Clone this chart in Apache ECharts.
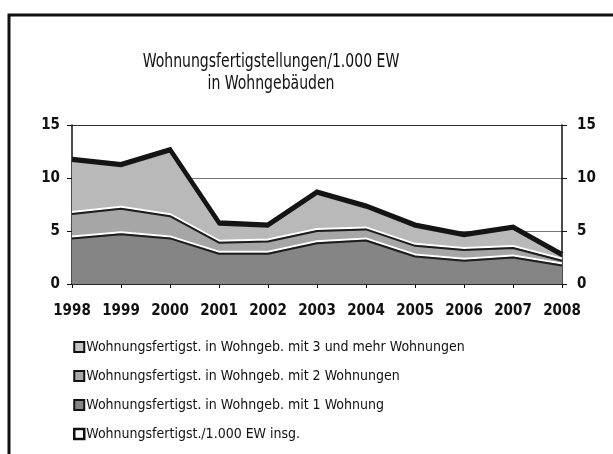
<!DOCTYPE html>
<html>
<head>
<meta charset="utf-8">
<script src="https://cdn.jsdelivr.net/npm/echarts@6/dist/echarts.min.js"></script>
<style>
  html, body { margin: 0; padding: 0; background: #fff; }
  #chart { width: 613px; height: 454px; }
</style>
</head>
<body>
<div id="chart"></div>
<script>
'use strict';

var years = ['1998', '1999', '2000', '2001', '2002', '2003', '2004', '2005', '2006', '2007', '2008'];
// Wohnungen je 1.000 EW
var oneFlat = [4.3, 4.7, 4.3, 2.85, 2.85, 3.85, 4.1, 2.6, 2.2, 2.5, 1.75];
var twoFlats = [2.3, 2.4, 2.1, 1.05, 1.15, 1.15, 1.05, 1.0, 1.0, 0.9, 0.45];
var threePlus = [5.0, 4.0, 6.1, 1.7, 1.4, 3.5, 2.05, 1.8, 1.3, 1.8, 0.4];
var total = [11.8, 11.3, 12.7, 5.8, 5.6, 8.7, 7.4, 5.6, 4.7, 5.4, 2.8];
var yTicks = [0, 15, 5];

var titleLines = ['Wohnungsfertigstellungen/1.000 EW', 'in Wohngebäuden'];
var names = [
    'Wohnungsfertigst. in Wohngeb. mit 3 und mehr Wohnungen',
    'Wohnungsfertigst. in Wohngeb. mit 2 Wohnungen',
    'Wohnungsfertigst. in Wohngeb. mit 1 Wohnung',
    'Wohnungsfertigst./1.000 EW insg.'
];

var FONT = '"Liberation Sans Narrow", "DejaVu Sans Condensed", sans-serif';

var boundary = {
    color: '#1c1c1c',
    width: 2,
    shadowColor: '#ffffff',
    shadowBlur: 0,
    shadowOffsetY: -2
};

var areaSeries = function(name, data, color, z) {
    return {
        name: name,
        type: 'line',
        stack: 'wohn',
        data: data,
        z: z,
        showSymbol: false,
        symbol: 'none',
        lineStyle: boundary,
        areaStyle: { color: color, opacity: 1 },
        itemStyle: { color: color },
        emphasis: { disabled: true }
    };
};

var yAxisBase = function(pos) {
    return {
        type: 'value',
        position: pos,
        min: yTicks[0],
        max: yTicks[1],
        interval: yTicks[2],
        axisLine: { show: true, lineStyle: { color: '#111', width: 1.5 } },
        axisTick: { show: true, length: 5, lineStyle: { color: '#111' } },
        axisLabel: {
            margin: pos === 'left' ? 12 : 15,
            color: '#111',
            fontFamily: FONT,
            fontWeight: 'bold',
            fontSize: 15
        },
        splitLine: {
            show: pos === 'left',
            lineStyle: { color: ['#777', '#777', '#777', '#333'], width: 1 }
        }
    };
};

// Titel als gestauchter Text (Schrift im Original sehr schmal)
var titleText = function(txt, y) {
    return {
        type: 'text',
        x: 271,
        y: y,
        scaleX: 0.78,
        silent: true,
        style: {
            text: txt,
            x: 0,
            y: 0,
            align: 'center',
            verticalAlign: 'middle',
            fontFamily: FONT,
            fontSize: 20,
            fill: '#111'
        }
    };
};

var myChart = echarts.init(document.getElementById('chart'));
var option = {
    backgroundColor: '#fff',
    animation: false,
    graphic: [
        {
            type: 'rect',
            shape: { x: 9, y: 15, width: 700, height: 500 },
            style: { fill: 'none', stroke: '#111', lineWidth: 3 },
            silent: true
        },
        titleText(titleLines[0], 62),
        titleText(titleLines[1], 84)
    ],
    grid: {
        left: 72,
        right: 51,
        top: 125,
        bottom: 170
    },
    legend: {
        orient: 'vertical',
        left: 73,
        top: 340,
        padding: 0,
        itemWidth: 10,
        itemHeight: 10,
        itemGap: 15,
        selectedMode: false,
        textStyle: {
            fontFamily: FONT,
            fontSize: 14,
            color: '#111',
            padding: [0, 0, 0, -3]
        },
        data: [
            { name: names[0], icon: 'rect', itemStyle: { color: '#c4c4c4', borderColor: '#111', borderWidth: 2 } },
            { name: names[1], icon: 'rect', itemStyle: { color: '#a8a8a8', borderColor: '#111', borderWidth: 2 } },
            { name: names[2], icon: 'rect', itemStyle: { color: '#858585', borderColor: '#111', borderWidth: 2 } },
            { name: names[3], icon: 'rect', itemStyle: { color: '#fff', borderColor: '#111', borderWidth: 2.5 } }
        ]
    },
    xAxis: {
        type: 'category',
        data: years,
        boundaryGap: false,
        axisLine: { show: true, lineStyle: { color: '#111', width: 1.5 } },
        axisTick: { show: true, length: 4, alignWithLabel: true, lineStyle: { color: '#111' } },
        axisLabel: {
            margin: 20,
            color: '#111',
            fontFamily: FONT,
            fontWeight: 'bold',
            fontSize: 15,
            interval: 0
        },
        splitLine: { show: false }
    },
    yAxis: [yAxisBase('left'), yAxisBase('right')],
    series: [
        areaSeries(names[2], oneFlat, '#858585', 4),
        areaSeries(names[1], twoFlats, '#a6a6a6', 3),
        areaSeries(names[0], threePlus, '#b9b9b9', 2),
        {
            name: names[3],
            type: 'line',
            data: total,
            z: 5,
            showSymbol: false,
            symbol: 'none',
            lineStyle: { color: '#141414', width: 4.5, join: 'miter' },
            itemStyle: { color: '#141414' },
            emphasis: { disabled: true }
        }
    ]
};
myChart.setOption(option);
</script>
</body>
</html>
